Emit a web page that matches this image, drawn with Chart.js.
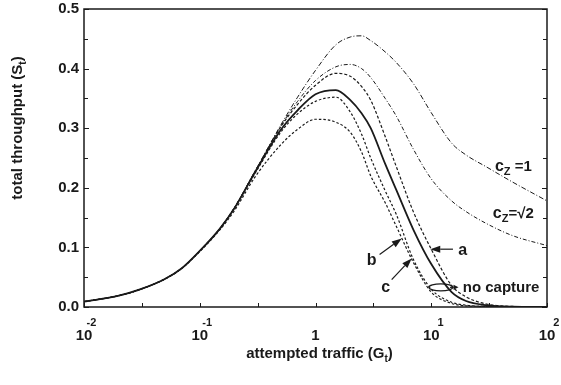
<!DOCTYPE html>
<html>
<head>
<meta charset="utf-8">
<script src="https://cdn.jsdelivr.net/npm/chart.js@4"></script>
<style>
  html, body { margin: 0; padding: 0; background: #fff; }
  #wrap { width: 561px; height: 385px; }
</style>
</head>
<body>
<div id="wrap"><canvas id="throughputChart" width="561" height="385"></canvas></div>
<script>
// attempted traffic G_t (log axis)
const traffic = [0.01, 0.02, 0.03, 0.05, 0.07, 0.1, 0.15, 0.2, 0.3, 0.5, 0.7, 1, 1.5, 2, 2.5, 3, 4, 5, 7, 10, 15, 20, 30, 50, 100];

// total throughput S_t
const czOne     = [0.009, 0.019, 0.029, 0.047, 0.065, 0.094, 0.132, 0.167, 0.228, 0.305, 0.352, 0.397, 0.44, 0.453, 0.455, 0.447, 0.428, 0.41, 0.375, 0.326, 0.275, 0.255, 0.235, 0.21, 0.178];
const czRoot2   = [0.009, 0.019, 0.029, 0.047, 0.065, 0.094, 0.132, 0.167, 0.227, 0.303, 0.345, 0.38, 0.403, 0.407, 0.40, 0.385, 0.35, 0.32, 0.265, 0.215, 0.178, 0.16, 0.14, 0.12, 0.103];
const curveA    = [0.009, 0.019, 0.029, 0.047, 0.065, 0.094, 0.132, 0.167, 0.227, 0.302, 0.34, 0.372, 0.392, 0.387, 0.37, 0.347, 0.286, 0.235, 0.16, 0.097, 0.036, 0.017, 0.005, 0.001, 0];
const noCapture = [0.009, 0.019, 0.029, 0.047, 0.065, 0.094, 0.132, 0.166, 0.226, 0.297, 0.33, 0.357, 0.364, 0.347, 0.325, 0.30, 0.24, 0.196, 0.13, 0.072, 0.025, 0.01, 0.003, 0.0005, 0];
const curveB    = [0.009, 0.019, 0.029, 0.047, 0.065, 0.094, 0.132, 0.166, 0.224, 0.293, 0.324, 0.345, 0.352, 0.327, 0.29, 0.25, 0.195, 0.155, 0.08, 0.03, 0.008, 0.003, 0.001, 0, 0];
const curveC    = [0.009, 0.019, 0.029, 0.047, 0.065, 0.093, 0.13, 0.162, 0.218, 0.272, 0.298, 0.315, 0.31, 0.293, 0.26, 0.22, 0.175, 0.135, 0.075, 0.025, 0.006, 0.002, 0.001, 0, 0];

const yTicks = [0, 0.1, 0.2, 0.3, 0.4, 0.5];
const xDecades = [-2, -1, 0, 1, 2];

const ink = '#1a1a1a';
const FONT = '"Liberation Sans", Arial, sans-serif';

function pts(arr) {
    return traffic.map((g, i) => ({ x: g, y: arr[i] }));
}

function series(arr, width, dash) {
    return {
        data: pts(arr),
        borderColor: ink,
        borderWidth: width,
        borderDash: dash,
        pointRadius: 0,
        fill: false,
        tension: 0.4,
        cubicInterpolationMode: 'monotone',
    };
}

// frame, inward ticks, labels and the annotations
const decorPlugin = {
    id: 'decor',
    afterDraw(chart) {
        const c = chart.ctx;
        const a = chart.chartArea;
        const xs = chart.scales.x, ys = chart.scales.y;
        const px = (v) => xs.getPixelForValue(v);
        const py = (v) => ys.getPixelForValue(v);
        c.save();
        c.strokeStyle = ink;
        c.fillStyle = ink;

        // frame
        c.lineWidth = 1.5;
        c.strokeRect(a.left, a.top, a.right - a.left, a.bottom - a.top);

        // y ticks every 0.05 on left and right
        c.lineWidth = 1;
        for (let k = 0; k <= 10; k++) {
            const y = Math.round(py(k * 0.05)) + 0.5;
            const len = k % 2 === 0 ? 5 : 4;
            c.beginPath();
            c.moveTo(a.left, y); c.lineTo(a.left + len, y);
            c.moveTo(a.right, y); c.lineTo(a.right - len, y);
            c.stroke();
        }
        // x ticks at decades and half decades
        for (let e = -2; e <= 2; e += 0.5) {
            const x = Math.round(px(Math.pow(10, e))) + 0.5;
            c.beginPath();
            c.moveTo(x, a.bottom); c.lineTo(x, a.bottom - 4);
            c.stroke();
        }

        // y tick labels
        c.font = 'bold 15px ' + FONT;
        c.textAlign = 'right';
        c.textBaseline = 'middle';
        yTicks.forEach((v) => c.fillText(v.toFixed(1), a.left - 5, py(v)));

        // x tick labels with exponents
        c.textBaseline = 'alphabetic';
        xDecades.forEach((e) => {
            const x = px(Math.pow(10, e));
            c.font = 'bold 15px ' + FONT;
            c.textAlign = 'center';
            if (e === 0) {
                c.fillText('1', x, a.bottom + 33);
                return;
            }
            c.fillText('10', x, a.bottom + 33);
            const w = c.measureText('10').width;
            c.font = 'bold 11px ' + FONT;
            c.textAlign = 'right';
            c.fillText(String(e), x + w / 2 + 4, a.bottom + 19);
        });

        // axis titles
        const drawSub = (parts, x, y, align) => {
            // parts: [text, isSub]
            let total = 0;
            parts.forEach((p) => {
                c.font = (p[1] ? 'bold 10px ' : 'bold 15px ') + FONT;
                total += c.measureText(p[0]).width;
            });
            let cx = align === 'center' ? x - total / 2 : x;
            c.textAlign = 'left';
            parts.forEach((p) => {
                c.font = (p[1] ? 'bold 10px ' : 'bold 15px ') + FONT;
                c.fillText(p[0], cx, p[1] ? y + 4 : y);
                cx += c.measureText(p[0]).width;
            });
        };
        drawSub([['attempted traffic (G', false], ['t', true], [')', false]], (a.left + a.right) / 2 + 4, 358, 'center');
        c.save();
        c.translate(22, 128);
        c.rotate(-Math.PI / 2);
        drawSub([['total throughput (S', false], ['t', true], [')', false]], 0, 0, 'center');
        c.restore();

        // curve labels
        const czLabel = (tail, g, s) => {
            let x = px(g), y = py(s);
            c.textAlign = 'left';
            c.font = 'bold 16px ' + FONT;
            c.fillText('c', x, y);
            x += c.measureText('c').width;
            c.font = 'bold 11px ' + FONT;
            c.fillText('Z', x, y + 4);
            x += c.measureText('Z').width;
            c.font = 'bold 15px ' + FONT;
            c.fillText(tail, x, y);
        };
        czLabel(' =1', 35.5, 0.229);
        czLabel('=\u221A2', 34, 0.150);

        const arrow = (g1, s1, g2, s2, hl, hw) => {
            const x1 = px(g1), y1 = py(s1), x2 = px(g2), y2 = py(s2);
            const ang = Math.atan2(y2 - y1, x2 - x1);
            const bx = x2 - hl * Math.cos(ang), by = y2 - hl * Math.sin(ang);
            c.lineWidth = 1.2;
            c.beginPath();
            c.moveTo(x1, y1); c.lineTo(bx, by);
            c.stroke();
            c.beginPath();
            c.moveTo(x2, y2);
            c.lineTo(bx + hw * Math.sin(ang), by - hw * Math.cos(ang));
            c.lineTo(bx - hw * Math.sin(ang), by + hw * Math.cos(ang));
            c.closePath();
            c.fill();
        };
        c.font = 'bold 16px ' + FONT;
        c.textAlign = 'center';
        c.fillText('a', px(18.7), py(0.088));
        arrow(15.4, 0.097, 9.8, 0.097, 10, 3.5);
        c.fillText('b', px(3.05), py(0.07));
        arrow(3.58, 0.088, 5.56, 0.115, 10, 3.5);
        c.fillText('c', px(4.04), py(0.026));
        arrow(4.55, 0.046, 6.78, 0.0815, 10, 3.5);

        // no capture marker
        c.lineWidth = 1.2;
        c.beginPath();
        c.ellipse(px(12.1), py(0.033), 12, 3.5, 0, 0, Math.PI * 2);
        c.stroke();
        arrow(14.5, 0.033, 17.2, 0.033, 5, 2.5);
        c.font = 'bold 15px ' + FONT;
        c.textAlign = 'left';
        c.fillText('no capture', px(18.7), py(0.026));

        c.restore();
    },
};

new Chart(document.getElementById('throughputChart').getContext('2d'), {
    type: 'line',
    data: {
        datasets: [
            series(czOne, 1, [5, 2, 1, 2]),
            series(czRoot2, 1, [4, 2, 1, 2]),
            series(curveA, 1.2, [3, 2]),
            series(noCapture, 1.8, []),
            series(curveB, 1.2, [2.5, 2]),
            series(curveC, 1.2, [2.5, 2]),
        ],
    },
    options: {
        responsive: false,
        animation: false,
        layout: { padding: { left: 84, right: 14, top: 9, bottom: 78 } },
        plugins: { legend: { display: false }, tooltip: { enabled: false } },
        scales: {
            x: {
                type: 'logarithmic',
                min: 0.01,
                max: 100,
                ticks: { display: false },
                grid: { display: false },
                border: { display: false },
                afterFit: (s) => { s.height = 0; },
            },
            y: {
                min: 0,
                max: 0.5,
                ticks: { display: false },
                grid: { display: false },
                border: { display: false },
                afterFit: (s) => { s.width = 0; },
            },
        },
    },
    plugins: [decorPlugin],
});
</script>
</body>
</html>
